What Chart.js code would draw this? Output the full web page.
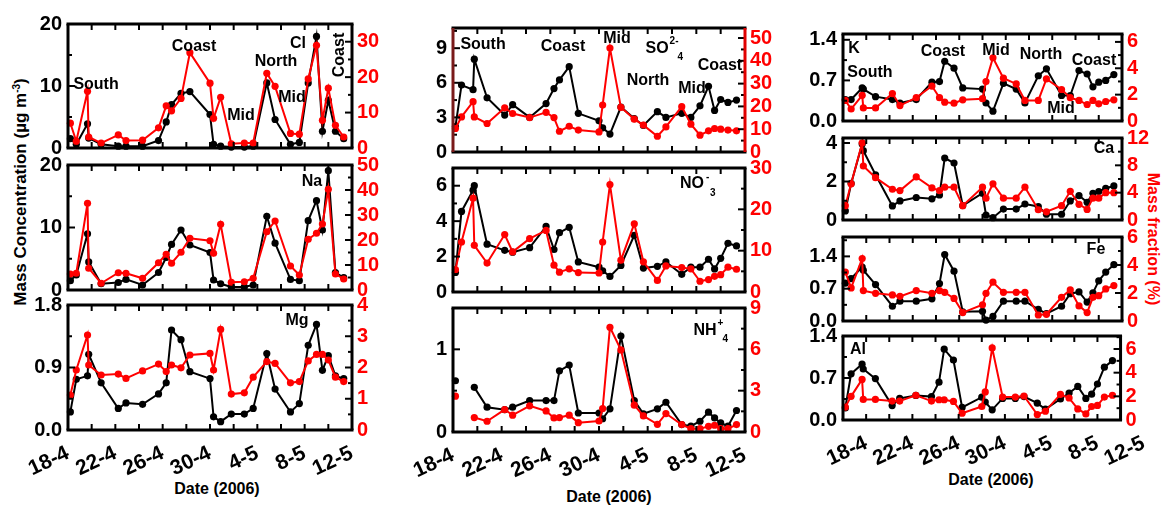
<!DOCTYPE html>
<html>
<head>
<meta charset="utf-8">
<title>Mass concentration and mass fraction, 18 April - 12 May 2006</title>
<script src="https://cdn.jsdelivr.net/npm/chart.js@4.4.1/dist/chart.umd.min.js"></script>
<style>
  html, body { margin: 0; padding: 0; background: #fff; }
  #stage { position: relative; width: 1162px; height: 505px; overflow: hidden; background: #fff; }
  #stage canvas { position: absolute; left: 0; top: 0; }
  .title { position: absolute; white-space: nowrap; font-family: "Liberation Sans", Arial, sans-serif; font-weight: bold; font-size: 16px; line-height: 1; transform: translate(-50%, -50%); }
  .title sup { font-size: 10px; vertical-align: 6px; }
  .ylabel { transform: translate(-50%, -50%) rotate(-90deg); font-size: 17px; }
  .rlabel { transform: translate(-50%, -50%) rotate(90deg); color: #ff0000; }
</style>
</head>
<body>
<div id="stage">
  <div class="title ylabel" style="left:20px; top:192px;">Mass Concentration (µg m<sup>-3</sup>)</div>
  <div class="title rlabel" style="left:1153px; top:239px;">Mass fraction (%)</div>
  <div class="title" style="left:217px; top:489px;">Date (2006)</div>
  <div class="title" style="left:609px; top:497px;">Date (2006)</div>
  <div class="title" style="left:991px; top:480px;">Date (2006)</div>
</div>
<script>
// Sampling times, in days after 18 April 2006 00:00
const sampleDays = [0.2, 0.7, 1.65, 1.75, 2.8, 4.25, 4.9, 6.3, 7.65, 8.3, 8.75, 9.55, 10.3, 12.0, 12.3,
                    12.9, 13.8, 14.9, 15.65, 16.8, 17.5, 18.8, 19.55, 20.3, 21.0, 21.5, 22.0, 22.6, 23.3];

// Date tick labels (day offset -> label)
const dateTickDays = [0, 4, 8, 12, 16, 20, 24];
const dateTickLabels = ['18-4', '22-4', '26-4', '30-4', '4-5', '8-5', '12-5'];

// Mass concentration (µg m-3) and mass fraction (%) per species
const clConc = [1.5, 0.6, 3.9, 1.6, 0.6, 0.3, 0.3, 0.3, 1.2, 4.2, 7.0, 8.8, 9.1, 5.4, 0.6, 0.3, 0.15, 0.15, 0.3, 10.5, 4.6, 0.6, 0.9, 10.5, 18.0, 2.7, 7.7, 2.7, 1.5];
const clFrac = [7.0, 1.9, 16.0, 3.1, 1.4, 3.7, 2.1, 2.2, 5.7, 11.9, 10.5, 14.0, 26.9, 18.3, 8.4, 14.3, 1.2, 1.4, 1.4, 21.1, 17.4, 4.1, 3.9, 19.5, 29.0, 7.8, 16.9, 6.4, 3.1];

const naConc = [1.5, 2.4, 9.0, 4.5, 1.0, 1.2, 1.7, 0.8, 2.8, 5.2, 7.3, 9.6, 7.2, 6.0, 1.6, 1.0, 0.5, 0.5, 0.8, 11.8, 7.5, 1.7, 1.5, 11.1, 14.3, 9.6, 19.1, 2.8, 2.0];
const naFrac = [6.4, 6.7, 34.7, 8.7, 2.7, 6.9, 6.7, 4.7, 10.9, 14.3, 10.7, 15.1, 20.7, 19.7, 14.7, 26.3, 3.1, 3.3, 4.7, 23.3, 27.6, 9.6, 6.0, 20.3, 22.7, 26.4, 40.3, 6.4, 4.4];

const mgConc = [0.26, 0.73, 0.78, 1.09, 0.68, 0.31, 0.39, 0.37, 0.52, 0.68, 1.44, 1.30, 0.84, 0.74, 0.19, 0.12, 0.23, 0.23, 0.31, 1.10, 0.59, 0.26, 0.38, 1.22, 1.52, 0.86, 1.07, 0.78, 0.74];
const mgFrac = [1.12, 1.92, 3.04, 2.08, 1.76, 1.79, 1.65, 1.89, 2.11, 1.87, 2.08, 1.99, 2.40, 2.45, 1.92, 3.22, 1.15, 1.19, 1.69, 2.19, 2.13, 1.51, 1.55, 2.21, 2.42, 2.42, 2.24, 1.69, 1.55];

const so4Conc = [2.2, 5.8, 5.4, 8.05, 4.7, 3.2, 4.1, 3.0, 4.2, 5.5, 6.25, 7.4, 3.35, 2.7, 2.1, 1.55, 3.9, 2.9, 2.3, 3.5, 3.0, 3.35, 3.0, 4.0, 5.7, 3.6, 4.55, 4.3, 4.5];
const so4Frac = [10.3, 15.4, 22.1, 15.4, 12.5, 19.4, 16.9, 15.1, 17.4, 15.1, 9.1, 11.3, 9.6, 8.8, 20.6, 45.6, 19.6, 14.4, 11.8, 6.9, 11.0, 19.9, 12.2, 7.4, 9.3, 10.3, 10.0, 9.6, 9.3];

const no3Conc = [1.1, 4.55, 5.75, 6.0, 2.7, 2.35, 2.25, 2.5, 3.7, 2.4, 3.35, 3.65, 1.7, 1.4, 1.2, 0.88, 1.5, 3.2, 1.35, 1.45, 1.7, 1.0, 1.4, 1.4, 1.85, 1.3, 1.9, 2.75, 2.6];
const no3Frac = [5.4, 12.1, 22.7, 11.3, 7.0, 13.9, 9.7, 12.9, 14.9, 6.5, 4.8, 5.6, 4.7, 4.6, 12.1, 26.0, 7.7, 16.5, 7.3, 2.8, 6.3, 5.9, 5.6, 2.6, 3.0, 3.8, 4.2, 6.0, 5.5];

const nh4Conc = [0.62, null, null, 0.54, 0.30, 0.27, 0.30, 0.38, 0.38, 0.38, 0.74, 0.81, 0.23, 0.23, 0.16, 0.28, 1.16, 0.38, 0.22, 0.28, 0.36, 0.09, 0.07, 0.13, 0.24, 0.17, 0.11, 0.07, 0.26];
const nh4Frac = [2.6, null, null, 1.05, 0.78, 1.63, 1.22, 1.9, 1.53, 1.02, 1.05, 1.22, 0.68, 0.80, 1.70, 7.6, 5.96, 1.95, 1.17, 0.56, 1.34, 0.54, 0.24, 0.24, 0.41, 0.49, 0.24, 0.24, 0.54];

const kConc = [0.37, 0.37, 0.57, 0.55, 0.42, 0.37, 0.31, 0.37, 0.67, 0.68, 1.03, 0.91, 0.57, 0.55, 0.31, 0.17, 0.65, 0.55, 0.31, 0.78, 0.90, 0.44, 0.44, 0.87, 0.81, 0.59, 0.67, 0.70, 0.80];
const kFrac = [1.56, 0.91, 1.95, 0.99, 0.99, 2.08, 1.17, 1.77, 2.65, 1.77, 1.43, 1.35, 1.61, 1.69, 2.99, 4.8, 3.25, 2.81, 1.56, 1.56, 3.19, 2.39, 1.77, 1.56, 1.25, 1.56, 1.30, 1.48, 1.61];

const caConc = [0.47, 1.9, 3.95, 3.6, 2.35, 0.73, 0.99, 1.17, 1.10, 1.3, 3.22, 2.96, 0.75, 1.39, 0.26, 0.12, 0.57, 0.57, 0.83, 0.70, 0.30, 0.30, 0.99, 1.27, 0.92, 1.39, 1.48, 1.65, 1.77];
const caFrac = [2.1, 5.3, 11.3, 7.9, 6.2, 4.5, 4.3, 6.3, 4.7, 4.3, 4.8, 4.8, 2.1, 4.8, 3.2, 5.3, 3.2, 3.2, 4.8, 1.5, 1.2, 2.1, 4.2, 2.3, 1.55, 3.2, 3.2, 4.0, 4.0];

const feConc = [0.82, 0.92, 1.17, 1.1, 0.79, 0.32, 0.43, 0.43, 0.48, 0.81, 1.44, 1.08, 0.2, 0.21, 0.02, 0.10, 0.43, 0.43, 0.43, 0.25, 0.16, 0.32, 0.59, 0.63, 0.41, 0.61, 0.87, 1.06, 1.22];
const feFrac = [3.5, 2.36, 4.46, 2.17, 1.98, 1.86, 1.76, 2.17, 1.98, 2.17, 2.05, 1.61, 0.6, 1.16, 1.98, 2.77, 2.05, 2.05, 2.05, 0.43, 0.48, 1.69, 2.22, 1.08, 0.6, 1.69, 1.81, 2.29, 2.53];

const alConc = [0.2, 0.77, 0.93, 0.85, 0.69, 0.24, 0.36, 0.41, 0.39, 0.63, 1.18, 1.0, 0.21, 0.38, 0.3, 0.17, 0.36, 0.36, 0.39, 0.28, 0.18, 0.35, 0.45, 0.56, 0.36, 0.43, 0.6, 0.88, 0.99];
const alFrac = [1.09, 2.0, 3.43, 1.74, 1.74, 1.6, 1.6, 2.09, 1.6, 1.71, 1.71, 1.57, 0.57, 1.14, 2.37, 6.09, 1.94, 1.94, 2.03, 0.46, 0.74, 2.17, 1.86, 0.94, 0.51, 1.14, 1.23, 1.94, 2.09];

// Labelled y-axis ticks (left: concentration, right: fraction)
const clTicksL = [0, 10, 20],        clTicksR = [0, 10, 20, 30];
const naTicksL = [0, 10, 20],        naTicksR = [0, 10, 20, 30, 40, 50];
const mgTicksL = [0, 0.9, 1.8],      mgTicksR = [0, 1, 2, 3, 4];
const so4TicksL = [0, 3, 6, 9],      so4TicksR = [0, 10, 20, 30, 40, 50];
const no3TicksL = [0, 2, 4, 6],      no3TicksR = [0, 10, 20, 30];
const nh4TicksL = [0, 1],            nh4TicksR = [0, 3, 6, 9];
const kTicksL = [0, 0.7, 1.4],       kTicksR = [0, 2, 4, 6];
const caTicksL = [0, 2, 4],          caTicksR = [0, 4, 8, 12];
const feTicksL = [0, 0.7, 1.4],      feTicksR = [0, 2, 4, 6];
const alTicksL = [0, 0.7, 1.4],      alTicksR = [0, 2, 4, 6];

const RED = '#ff0000';
const FONT = '"Liberation Sans", Arial, sans-serif';
Chart.defaults.font.family = FONT;

// Panel layout: plot box [left, top, right, bottom] on the page, axis ranges and in-plot notes
const sub = (t, dx, dy) => ({ t, dx, dy });
const panels = [
  { conc: clConc, frac: clFrac, box: [68, 24, 352, 148],
    yl: { max: 20, step: 5, labels: clTicksL, dp: 0 }, yr: { max: 35, step: 5, labels: clTicksR },
    notes: [ { t: 'South', d: 2.37, v: 10.3 }, { t: 'Coast', d: 10.65, v: 16.3 }, { t: 'Mid', d: 14.62, v: 5.3 },
             { t: 'North', d: 17.58, v: 14.0 }, { t: 'Mid', d: 18.93, v: 8.1 }, { t: 'Cl', d: 19.44, v: 16.9 },
             { t: 'Coast', d: 22.99, v: 15.0, rot: true } ] },
  { conc: naConc, frac: naFrac, box: [68, 165, 352, 290],
    yl: { max: 20, step: 5, labels: naTicksL, dp: 0 }, yr: { max: 50, step: 5, labels: naTicksR },
    notes: [ { t: 'Na', d: 20.62, v: 17.4 } ] },
  { conc: mgConc, frac: mgFrac, box: [68, 305, 352, 430],
    yl: { max: 1.8, step: 0.45, labels: mgTicksL, dp: 1 }, yr: { max: 4, step: 0.5, labels: mgTicksR },
    notes: [ { t: 'Mg', d: 19.35, v: 1.57 } ], dates: true, shift: 0 },

  { conc: so4Conc, frac: so4Frac, box: [453, 28, 745, 152],
    yl: { max: 10.75, step: 1.5, labels: so4TicksL, dp: 0 }, yr: { max: 54.4, step: 5, labels: so4TicksR },
    frame: { left: '#7a1a1a', right: '#e00000' },
    notes: [ { t: 'South', d: 2.47, v: 9.28 }, { t: 'Coast', d: 9.04, v: 9.1 }, { t: 'Mid', d: 13.48, v: 9.8 },
             { t: 'SO', d: 16.77, v: 9.0, parts: [sub('2-', 1, -7), sub('4', 9, 9)] },
             { t: 'North', d: 16.03, v: 6.16 }, { t: 'Mid', d: 19.64, v: 5.46 }, { t: 'Coast', d: 21.94, v: 7.46 } ] },
  { conc: no3Conc, frac: no3Frac, box: [453, 168, 745, 292],
    yl: { max: 7, step: 1, labels: no3TicksL, dp: 0 }, yr: { max: 30, step: 5, labels: no3TicksR },
    notes: [ { t: 'NO', d: 19.64, v: 6.1, parts: [sub('-', 2, -7), sub('3', 6, 9)] } ] },
  { conc: nh4Conc, frac: nh4Frac, box: [453, 308, 745, 432],
    yl: { max: 1.5, step: 0.5, labels: nh4TicksL, dp: 0 }, yr: { max: 9, step: 1.5, labels: nh4TicksR },
    notes: [ { t: 'NH', d: 20.71, v: 1.23, parts: [sub('+', 1, -7), sub('4', 6, 9)] } ], dates: true, shift: 0 },

  { conc: kConc, frac: kFrac, box: [843, 34, 1122, 121],
    yl: { max: 1.5, step: 0.35, labels: kTicksL, dp: 1 }, yr: { max: 6.6, step: 1, labels: kTicksR },
    notes: [ { t: 'K', d: 0.95, v: 1.24 }, { t: 'South', d: 2.32, v: 0.83 }, { t: 'Coast', d: 8.6, v: 1.19 },
             { t: 'Mid', d: 13.16, v: 1.21 }, { t: 'North', d: 17.03, v: 1.14 }, { t: 'Coast', d: 21.59, v: 1.05 },
             { t: 'Mid', d: 18.75, v: 0.21 } ] },
  { conc: caConc, frac: caFrac, box: [843, 138, 1122, 220],
    yl: { max: 4.26, step: 1, labels: caTicksL, dp: 0 }, yr: { max: 12, step: 2, labels: caTicksR },
    notes: [ { t: 'Ca', d: 22.45, v: 3.69 } ] },
  { conc: feConc, frac: feFrac, box: [843, 237, 1122, 321],
    yl: { max: 1.82, step: 0.35, labels: feTicksL, dp: 1 }, yr: { max: 6, step: 1, labels: feTicksR },
    notes: [ { t: 'Fe', d: 21.76, v: 1.54 } ] },
  { conc: alConc, frac: alFrac, box: [843, 336, 1122, 420],
    yl: { max: 1.4, step: 0.35, labels: alTicksL, dp: 1 }, yr: { max: 7.1, step: 1, labels: alTicksR },
    notes: [ { t: 'Al', d: 1.29, v: 1.18 } ], dates: true, shift: 2 }
];

const W = 1162, H = 505;
const AXIS_L = 60, AXIS_R = 38, AXIS_B = 62;

function stepValues(max, step) {
  const out = [];
  for (let i = 0; i * step <= max + 1e-9; i++) out.push(+(i * step).toFixed(4));
  return out;
}
const isIn = (list, v) => list.some(u => Math.abs(u - v) < 1e-6);

// Frame, inward tick marks and in-plot notes
function makeDecor(p) {
  return {
    id: 'decor',
    afterDraw(chart) {
      const { ctx, chartArea: a } = chart;
      const sx = chart.scales.x, sl = chart.scales.y, sr = chart.scales.y1;
      const seg = (x1, y1, x2, y2, c) => { ctx.strokeStyle = c; ctx.beginPath(); ctx.moveTo(x1, y1); ctx.lineTo(x2, y2); ctx.stroke(); };
      ctx.save();
      ctx.lineWidth = 2;
      sx.ticks.forEach(t => {
        if (t.value < sx.min - 1e-6 || t.value > sx.max + 1e-6) return;
        const px = sx.getPixelForValue(t.value);
        seg(px, a.bottom, px, a.bottom - 6, '#000');
        seg(px, a.top, px, a.top + 6, '#000');
      });
      sl.ticks.forEach(t => {
        const py = sl.getPixelForValue(t.value);
        seg(a.left, py, a.left + (t.label !== '' ? 7 : 4), py, '#000');
      });
      sr.ticks.forEach(t => {
        const py = sr.getPixelForValue(t.value);
        seg(a.right, py, a.right - (t.label !== '' ? 7 : 4), py, '#000');
      });
      const f = Object.assign({ top: '#000', bottom: '#000', left: '#000', right: '#000' }, p.frame || {});
      ctx.lineWidth = 3;
      seg(a.left - 1.5, a.top, a.right + 1.5, a.top, f.top);
      seg(a.left - 1.5, a.bottom, a.right + 1.5, a.bottom, f.bottom);
      seg(a.left, a.top, a.left, a.bottom, f.left);
      seg(a.right, a.top, a.right, a.bottom, f.right);

      ctx.fillStyle = '#000';
      ctx.textBaseline = 'middle';
      p.notes.forEach(n => {
        const x = sx.getPixelForValue(n.d), y = sl.getPixelForValue(n.v);
        ctx.save();
        ctx.translate(x, y);
        if (n.rot) ctx.rotate(-Math.PI / 2);
        ctx.font = 'bold 16px ' + FONT;
        ctx.textAlign = 'center';
        ctx.fillText(n.t, 0, 0);
        if (n.parts) {
          const half = ctx.measureText(n.t).width / 2;
          ctx.font = 'bold 10px ' + FONT;
          ctx.textAlign = 'left';
          n.parts.forEach(s => ctx.fillText(s.t, half + s.dx, s.dy));
        }
        ctx.restore();
      });
      ctx.restore();
    }
  };
}

function yAxis(cfg, side) {
  const ticksAt = stepValues(cfg.max, cfg.step);
  return {
    type: 'linear', position: side, min: 0, max: cfg.max,
    grid: { display: false, drawTicks: false }, border: { display: false },
    afterBuildTicks: s => { s.ticks = ticksAt.map(v => ({ value: v })); },
    afterFit: s => { s.width = side === 'left' ? AXIS_L : AXIS_R; },
    ticks: {
      autoSkip: false, padding: side === 'left' ? 6 : 5,
      color: side === 'left' ? '#000' : RED,
      font: { size: 20, weight: 'bold' },
      callback: v => isIn(cfg.labels, v) ? v.toFixed(cfg.dp || 0) : ''
    }
  };
}

function xAxis(p) {
  const ticksAt = stepValues(24, 2);
  if (p.dates && p.shift) ticksAt.push(24 + p.shift);
  return {
    type: 'linear', min: 0, max: 24, display: !!p.dates,
    grid: { display: false, drawTicks: false }, border: { display: false },
    afterBuildTicks: s => { s.ticks = ticksAt.map(v => ({ value: v })); },
    afterFit: s => { s.height = p.dates ? AXIS_B : 0; },
    ticks: {
      autoSkip: false, minRotation: 25, maxRotation: 25, padding: 11,
      color: '#000', font: { size: 21, weight: 'bold' },
      callback: v => {
        const i = dateTickDays.findIndex(d => Math.abs(d + (p.shift || 0) - v) < 1e-6);
        return i >= 0 ? dateTickLabels[i] : '';
      }
    }
  };
}

function series(values, color, axis) {
  return {
    data: sampleDays.map((d, i) => ({ x: d, y: values[i] })),
    yAxisID: axis, borderColor: color, backgroundColor: color,
    pointBackgroundColor: color, pointBorderWidth: 0, pointRadius: 3.6,
    borderWidth: 2, tension: 0, spanGaps: false, clip: 6
  };
}

const stage = document.getElementById('stage');
panels.forEach(p => {
  const cv = document.createElement('canvas');
  cv.width = W; cv.height = H;
  stage.appendChild(cv);
  const [x0, y0, x1, y1] = p.box;
  const bottomAxis = p.dates ? AXIS_B : 0;
  new Chart(cv, {
    type: 'line',
    data: { datasets: [ series(p.frac, RED, 'y1'), series(p.conc, '#000', 'y') ] },
    options: {
      responsive: false, animation: false, devicePixelRatio: 1,
      layout: { autoPadding: false, padding: { left: x0 - AXIS_L, top: y0, right: W - x1 - AXIS_R, bottom: H - y1 - bottomAxis } },
      plugins: { legend: { display: false }, tooltip: { enabled: false } },
      scales: { x: xAxis(p), y: yAxis(p.yl, 'left'), y1: yAxis(p.yr, 'right') }
    },
    plugins: [ makeDecor(p) ]
  });
});
</script>
</body>
</html>
